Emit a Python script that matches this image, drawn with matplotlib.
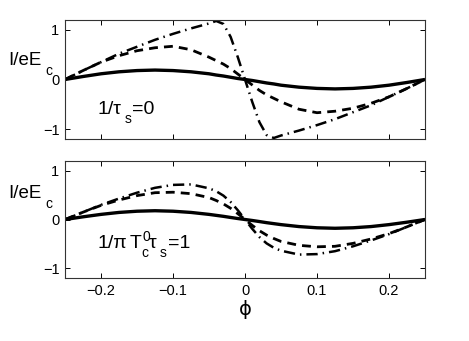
import matplotlib
matplotlib.use('Agg')
from matplotlib import pyplot as plt
from matplotlib.transforms import offset_copy

plt.rcParams['font.family'] = ['Liberation Sans', 'DejaVu Sans']
plt.rcParams['axes.unicode_minus'] = True

# phase values (left half; right half is the mirror image with opposite sign)
phi_half = [-0.25, -0.225, -0.2, -0.175, -0.15, -0.125, -0.1, -0.075,
            -0.05, -0.04, -0.03, -0.02, -0.01, 0.0]

# top panel, 1/tau_s = 0
top_solid = [0.0, 0.06, 0.115, 0.155, 0.18, 0.19, 0.18, 0.155,
             0.115, 0.09, 0.07, 0.045, 0.02, 0.0]
top_dash = [0.0, 0.18, 0.35, 0.48, 0.58, 0.64, 0.67, 0.60,
            0.45, 0.38, 0.31, 0.22, 0.11, 0.0]
top_dashdot = [0.0, 0.18, 0.35, 0.52, 0.66, 0.80, 0.92, 1.03,
               1.13, 1.18, 1.12, 0.86, 0.45, 0.0]

# bottom panel, 1/(pi Tc0 tau_s) = 1
bot_solid = [0.0, 0.055, 0.105, 0.145, 0.17, 0.18, 0.17, 0.145,
             0.105, 0.085, 0.065, 0.042, 0.02, 0.0]
bot_dash = [0.0, 0.15, 0.29, 0.40, 0.49, 0.55, 0.56, 0.53,
            0.45, 0.39, 0.32, 0.23, 0.12, 0.0]
bot_dashdot = [0.0, 0.15, 0.30, 0.43, 0.55, 0.65, 0.71, 0.72,
               0.64, 0.58, 0.49, 0.36, 0.19, 0.0]

xticks = [-0.2, -0.1, 0, 0.1, 0.2]
xticklabels = ['\u22120.2', '\u22120.1', '0', '0.1', '0.2']
yticks = [-1, 0, 1]
yticklabels = ['\u22121', '0', '1']


def full(half):
    # antisymmetric continuation to the right half
    return half[:-1] + [-v for v in half[::-1]]


def pieces(ax, x, y, parts):
    # parts: (text, dx px, dy px, size) relative to an anchor in axes coords
    for txt, dx, dy, size in parts:
        tr = offset_copy(ax.transAxes, fig=ax.figure, x=dx * 0.72, y=dy * 0.72,
                         units='points')
        ax.text(x, y, txt, transform=tr, fontsize=size, ha='left', va='baseline')


phi = phi_half[:-1] + [-v for v in phi_half[::-1]]

fig = plt.figure(figsize=(4.69, 3.41), dpi=100)
ax1 = fig.add_axes([0.1386, 0.5924, 0.7676, 0.349])
ax2 = fig.add_axes([0.1386, 0.1848, 0.7676, 0.343])

panels = [(ax1, top_solid, top_dash, top_dashdot),
          (ax2, bot_solid, bot_dash, bot_dashdot)]
for ax, s, d, dd in panels:
    ax.plot(phi, full(s), color='black', lw=2.4, solid_capstyle='butt')
    ax.plot(phi, full(d), color='black', lw=2.0, dashes=(3.2, 2.2))
    ax.plot(phi, full(dd), color='black', lw=1.8, dashes=(4.5, 2.0, 0.6, 2.0))
    ax.set_xlim(-0.25, 0.25)
    ax.set_ylim(-1.2, 1.2)
    ax.set_xticks(xticks)
    ax.set_yticks(yticks)
    ax.set_yticklabels(yticklabels)
    ax.tick_params(direction='in', length=3.5, width=0.7, top=True, right=True,
                   labelsize=10.5, pad=4)
    for sp in ax.spines.values():
        sp.set_linewidth(0.8)
        sp.set_color('#333333')

ax1.set_xticklabels([])
ax2.set_xticklabels(xticklabels)
ax2.set_xlabel('\u03d5', fontsize=14, labelpad=2, family=['DejaVu Sans'])

# y labels written horizontally above the zero tick
fig.text(8 / 469, 1 - 65 / 341, 'I/eE', fontsize=13.5, ha='left', va='baseline')
fig.text(45 / 469, 1 - 75 / 341, 'c', fontsize=10, ha='left', va='baseline')
fig.text(8 / 469, 1 - 198 / 341, 'I/eE', fontsize=13.5, ha='left', va='baseline')
fig.text(45 / 469, 1 - 208 / 341, 'c', fontsize=10, ha='left', va='baseline')

pieces(ax1, 0.089, 0.21, [('1/\u03c4', 0, 0, 14), ('s', 28, -9, 10),
                          ('=0', 35, 0, 14)])
pieces(ax2, 0.089, 0.256, [('1/\u03c0', 0, 0, 14), ('T', 33, 0, 14),
                           ('0', 45, 7, 10), ('c', 44, -9, 10),
                           ('\u03c4', 52, 0, 14), ('s', 63, -9, 10),
                           ('=1', 71, 0, 14)])

fig.savefig('out.png', dpi=100)
